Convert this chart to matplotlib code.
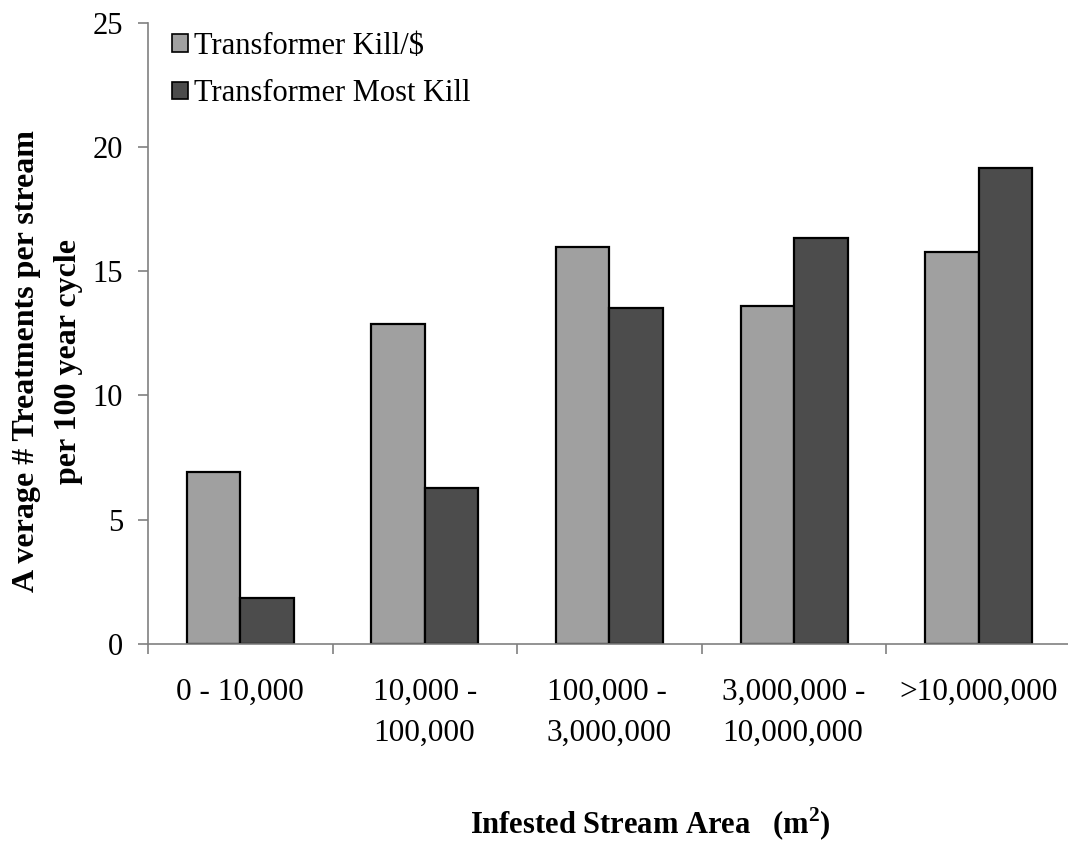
import numpy as np
import matplotlib
matplotlib.use("Agg")
import matplotlib.pyplot as plt
from matplotlib.patches import Patch

plt.rcParams['font.family'] = ['Liberation Serif', 'DejaVu Serif']
plt.rcParams['mathtext.fontset'] = 'custom'
plt.rcParams['mathtext.rm'] = 'Liberation Serif:bold'
plt.rcParams['mathtext.bf'] = 'Liberation Serif:bold'

CATEGORIES = ["0 - 10,000", "10,000 -\n100,000", "100,000 -\n3,000,000",
              "3,000,000 -\n10,000,000", ">10,000,000"]
KILL_PER_DOLLAR = [6.92, 12.87, 15.99, 13.60, 15.77]
MOST_KILL = [1.85, 6.26, 13.51, 16.32, 19.14]
SERIES_NAMES = ["Transformer Kill/$", "Transformer Most Kill"]
Y_TICKS = [0, 5, 10, 15, 20, 25]

LIGHT = '#a0a0a0'
DARK = '#4c4c4c'
AXIS_GRAY = '#808080'

W, H = 1068, 844
fig = plt.figure(figsize=(W / 100, H / 100), dpi=100)
ax = fig.add_axes([148 / W, (H - 644) / H, 923 / W, (644 - 22.7) / H])

x = np.arange(len(CATEGORIES))
bw = 0.29
ax.bar(x - bw / 2, KILL_PER_DOLLAR, bw, color=LIGHT, edgecolor='black', linewidth=1.6)
ax.bar(x + bw / 2, MOST_KILL, bw, color=DARK, edgecolor='black', linewidth=1.6)

ax.set_xlim(-0.5, len(CATEGORIES) - 0.5)
ax.set_ylim(0, 25)

for s in ['top', 'right']:
    ax.spines[s].set_visible(False)
for s in ['left', 'bottom']:
    ax.spines[s].set_color(AXIS_GRAY)
    ax.spines[s].set_linewidth(1.2)

# category boundaries as major ticks, labels sit on minor ticks at centres
ax.set_xticks(np.arange(len(CATEGORIES) + 1) - 0.5)
ax.set_xticklabels([])
ax.set_xticks(x, minor=True)
ax.set_xticklabels(CATEGORIES, minor=True, fontsize=22.5, multialignment='left',
                   linespacing=1.55)
ax.tick_params(axis='x', which='major', direction='out', length=7, width=1.2, color=AXIS_GRAY)
ax.tick_params(axis='x', which='minor', length=0, pad=24)

ax.set_yticks(Y_TICKS)
ax.set_yticklabels([str(v) for v in Y_TICKS], fontsize=22)
ax.tick_params(axis='y', direction='out', length=7, width=1.2, color=AXIS_GRAY, pad=11)

handles = [Patch(facecolor=LIGHT, edgecolor='black', linewidth=1.2),
           Patch(facecolor=DARK, edgecolor='black', linewidth=1.2)]
fig.legend(handles, SERIES_NAMES, loc='upper left',
           bbox_to_anchor=(171.7 / W, 1 - 32 / H), frameon=False, fontsize=22,
           handlelength=0.54, handleheight=0.5, handletextpad=0.2,
           labelspacing=0.6, borderpad=0, borderaxespad=0)

fig.text(47.7 / W, 1 - 361 / H, "A verage # Treatments per stream\nper 100 year cycle",
         rotation=90, ha='center', va='center', multialignment='center',
         fontsize=23, fontweight='bold', linespacing=1.6)

fig.text(650 / W, (H - 834) / H, r"Infested Stream Area   (m$^{2}$)",
         ha='center', va='baseline', fontsize=22, fontweight='bold')

fig.savefig("out.png", dpi=100)
